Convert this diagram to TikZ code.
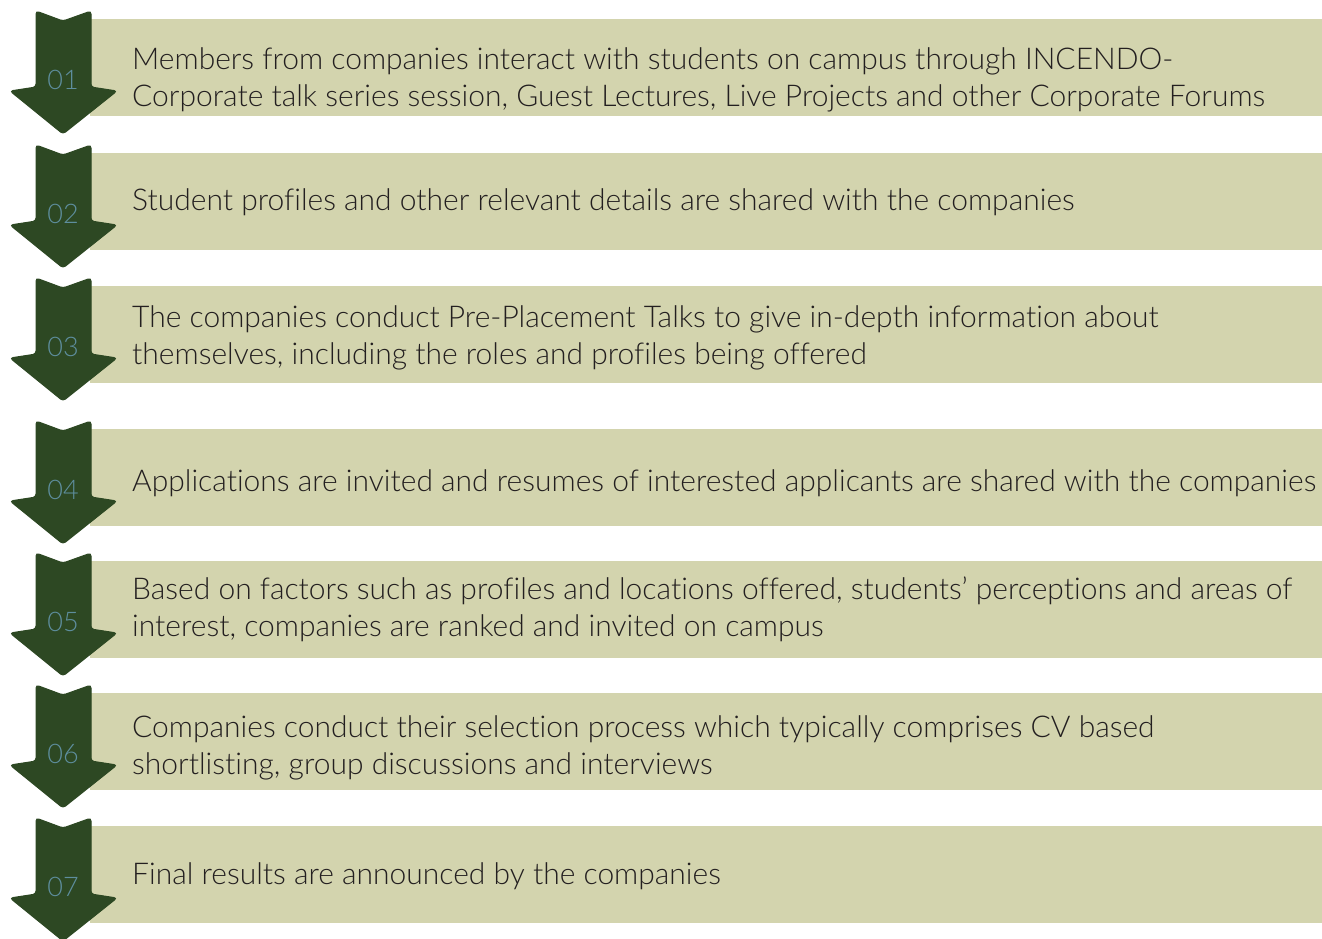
\documentclass[tikz,border=0pt]{standalone}
\usepackage{fontspec}
\setmainfont{Lato}[UprightFont=* Light,Ligatures=NoCommon]
\usepackage{xcolor}

\begin{document}
\begin{tikzpicture}[x=1pt,y=-1pt,
  stepbox/.style={fill=sage,draw=none},
  steparrow/.style={fill=forest,draw=forest,line width=1pt,rounded corners=3pt},
  stepnum/.style={text=slate,font=\fontsize{27}{27}\selectfont,inner sep=0},
  steptext/.style={anchor=west,align=left,inner sep=0,text=ink,font=\fontsize{30}{37}\selectfont}]
\definecolor{sage}{HTML}{D3D4AE}
\definecolor{forest}{HTML}{2D4823}
\definecolor{slate}{HTML}{5E8E9E}
\definecolor{ink}{HTML}{231F20}
\useasboundingbox (0,0) rectangle (1322,938);
  \foreach \n/\b/\ty/\txt in {01/19/80/{Members from companies interact with students on campus through INCENDO-\\Corporate talk series session, Guest Lectures, Live Projects and other Corporate Forums},
    02/153/202/{Student profiles and other relevant details are shared with the companies},
    03/286/338/{The companies conduct Pre-Placement Talks to give in-depth information about\\themselves, including the roles and profiles being offered},
    04/429/483/{Applications are invited and resumes of interested applicants are shared with the companies},
    05/561/609/{Based on factors such as profiles and locations offered, students’ perceptions and areas of\\interest, companies are ranked and invited on campus},
    06/693/748/{Companies conduct their selection process which typically comprises CV based\\shortlisting, group discussions and interviews},
    07/826/876/{Final results are announced by the companies}}
  {
    \fill [stepbox] (90,\b) rectangle (1322,\b+97);
    \draw [steparrow] (36,\b-8) -- (63,\b+2) -- (91,\b-8) -- (91,\b+68)
      -- (117,\b+72) -- (63,\b+115) -- (10,\b+72) -- (36,\b+68) -- cycle;
    \node [stepnum] (num\n) at (63,\b+61) {\n};
    \node [steptext] (txt\n) at (132,\ty) {\txt};
  }
\end{tikzpicture}
\end{document}
